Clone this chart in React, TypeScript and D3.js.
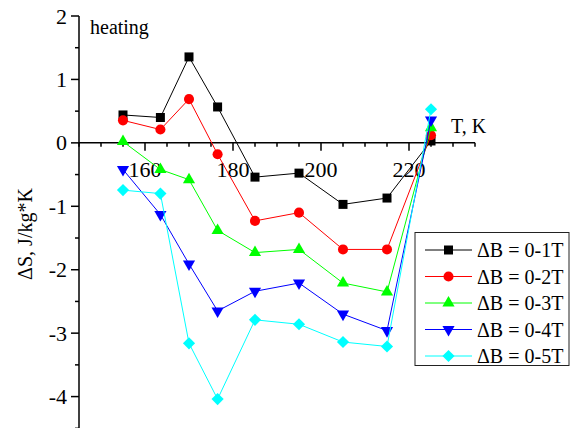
import React from "react";
import * as d3 from "d3";

const temps = [155, 163.5, 170, 176.5, 185, 195, 205, 215, 225];
const s1 = [0.44, 0.4, 1.355, 0.566, -0.54, -0.477, -0.97, -0.87, 0.03];
const s2 = [0.355, 0.21, 0.69, -0.18, -1.23, -1.1, -1.68, -1.68, 0.12];
const s3 = [0.02, -0.42, -0.58, -1.38, -1.73, -1.68, -2.21, -2.35, 0.24];
const s4 = [-0.42, -1.13, -1.91, -2.65, -2.34, -2.21, -2.7, -2.96, 0.36];
const s5 = [-0.745, -0.8, -3.16, -4.04, -2.79, -2.86, -3.14, -3.21, 0.53];

const seriesNames = ["ΔB = 0-1T", "ΔB = 0-2T", "ΔB = 0-3T", "ΔB = 0-4T", "ΔB = 0-5T"];
const seriesValues = [s1, s2, s3, s4, s5];
const seriesColors = ["#000000", "#ff0000", "#00ff00", "#0000ff", "#00ffff"];
const seriesMarkers = ["square", "circle", "triangleUp", "triangleDown", "diamond"];

const xTickLabels = [160, 180, 200, 220];
const yTickLabels = [2, 1, 0, -1, -2, -3, -4];

const W = 572;
const H = 428;
const FONT = '"Liberation Serif", "Times New Roman", "DejaVu Serif", serif';
const textStyle: React.CSSProperties = { fontFamily: FONT };

const x = d3.scaleLinear().domain([145, 235]).range([79, 475]);
const y = d3.scaleLinear().domain([-4.5, 2]).range([428.3, 16]);

function markerPath(kind: string): { d: string; rot: number } {
  switch (kind) {
    case "square":
      return { d: d3.symbol(d3.symbolSquare, 81)()!, rot: 0 };
    case "circle":
      return { d: d3.symbol(d3.symbolCircle, 80)()!, rot: 0 };
    case "triangleUp":
      return { d: d3.symbol(d3.symbolTriangle, 64)()!, rot: 0 };
    case "triangleDown":
      return { d: d3.symbol(d3.symbolTriangle, 64)()!, rot: 180 };
    default:
      return { d: d3.symbol(d3.symbolSquare, 74)()!, rot: 45 };
  }
}

export default function App() {
  const line = d3
    .line<number>()
    .x((_, i) => x(temps[i]))
    .y((v) => y(v));

  const y0 = y(0);
  const xMinor = d3.range(145, 235.01, 5).filter((t) => t % 20 !== 0);
  const yMinor = d3.range(-4.5, 2.01, 0.5).filter((v) => Math.abs(v % 1) > 0.1);

  const legendRowY = (i: number) => 250 + i * 26.5;

  return (
    <svg
      width={W}
      height={H}
      style={{ position: "absolute", left: 0, top: 0, background: "#fff", fontFamily: FONT }}
    >
      {/* axes */}
      <line x1={x(145)} x2={x(145)} y1={y(2)} y2={H} stroke="#000" strokeWidth={1.5} />
      <line x1={x(145)} x2={x(235)} y1={y0} y2={y0} stroke="#000" strokeWidth={1.5} />
      {yTickLabels.map((v) => (
        <g key={"yt" + v}>
          <line x1={x(145) - 8} x2={x(145)} y1={y(v)} y2={y(v)} stroke="#000" strokeWidth={1.5} />
          <text x={x(145) - 12} y={y(v) + 7.5} fontSize={22} textAnchor="end" fill="#000" style={textStyle}>
            {v}
          </text>
        </g>
      ))}
      {yMinor.map((v) => (
        <line key={"ym" + v} x1={x(145) - 4} x2={x(145)} y1={y(v)} y2={y(v)} stroke="#000" strokeWidth={1.5} />
      ))}
      {xTickLabels.map((t) => (
        <g key={"xt" + t}>
          <line x1={x(t)} x2={x(t)} y1={y0} y2={y0 + 8} stroke="#000" strokeWidth={1.5} />
          <text x={x(t)} y={177} fontSize={22} textAnchor="middle" fill="#000" style={textStyle}>
            {t}
          </text>
        </g>
      ))}
      {xMinor.map((t) => (
        <line key={"xm" + t} x1={x(t)} x2={x(t)} y1={y0} y2={y0 + 4} stroke="#000" strokeWidth={1.5} />
      ))}

      <text x={451} y={133} fontSize={20} fill="#000" style={textStyle}>T, K</text>
      <text x={90} y={34} fontSize={20} fill="#000" style={textStyle}>heating</text>
      <text
        transform={`translate(32,234) rotate(-90)`}
        fontSize={20}
        textAnchor="middle"
        fill="#000"
        style={textStyle}
      >
        ΔS, J/kg*K
      </text>

      {/* series */}
      {seriesValues.map((vals, si) => {
        const m = markerPath(seriesMarkers[si]);
        return (
          <g key={"s" + si}>
            <path d={line(vals) || ""} fill="none" stroke={seriesColors[si]} strokeWidth={1} />
            {vals.map((v, i) => (
              <path
                key={i}
                d={m.d}
                transform={`translate(${x(temps[i])},${y(v)}) rotate(${m.rot})`}
                fill={seriesColors[si]}
              />
            ))}
          </g>
        );
      })}

      {/* legend */}
      <rect x={415} y={232.5} width={154} height={133} fill="#fff" stroke="#222" strokeWidth={1} />
      {seriesNames.map((name, i) => {
        const m = markerPath(seriesMarkers[i]);
        const ry = legendRowY(i);
        return (
          <g key={"lg" + i}>
            <line x1={425} x2={472} y1={ry} y2={ry} stroke={seriesColors[i]} strokeWidth={1} />
            <path d={m.d} transform={`translate(448.5,${ry}) rotate(${m.rot})`} fill={seriesColors[i]} />
            <text x={477} y={ry + 7} fontSize={20} fill="#000" style={textStyle}>
              {name}
            </text>
          </g>
        );
      })}
    </svg>
  );
}
